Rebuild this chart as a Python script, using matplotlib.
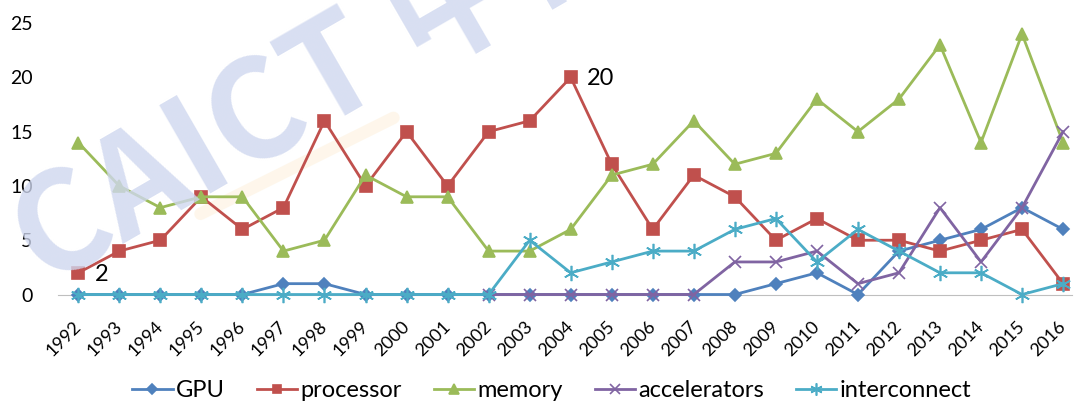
import numpy as np
import matplotlib
matplotlib.use("Agg")
import matplotlib.pyplot as plt
from matplotlib.lines import Line2D

plt.rcParams['font.family'] = ['Lato', 'Noto Sans CJK SC', 'DejaVu Sans']

years = [str(y) for y in range(1992, 2017)]

gpu = [0, 0, 0, 0, 0, 1, 1, 0, 0, 0, 0, 0, 0, 0, 0, 0, 0, 1, 2, 0, 4, 5, 6, 8, 6]
processor = [2, 4, 5, 9, 6, 8, 16, 10, 15, 10, 15, 16, 20, 12, 6, 11, 9, 5, 7, 5, 5, 4, 5, 6, 1]
memory = [14, 10, 8, 9, 9, 4, 5, 11, 9, 9, 4, 4, 6, 11, 12, 16, 12, 13, 18, 15, 18, 23, 14, 24, 14]
accelerators = [np.nan] * 10 + [0, 0, 0, 0, 0, 0, 3, 3, 4, 1, 2, 8, 3, 8, 15]
interconnect = [0, 0, 0, 0, 0, 0, 0, 0, 0, 0, 0, 5, 2, 3, 4, 4, 6, 7, 3, 6, 4, 2, 2, 0, 1]

# labelled points: (series, index)
labelled = [(processor, 0), (processor, 12)]

x = np.arange(len(years))

fig = plt.figure(figsize=(10.78, 4.05), dpi=100)
ax = fig.add_axes([0.0536, 0.2728, 0.9516, 0.6702])

# faint watermark behind the chart
fig.text(0.042, 0.285, "CAICT 中国信通院", fontsize=99, fontweight='bold',
         color='#cfd7ef', alpha=0.8, rotation=30, rotation_mode='anchor',
         ha='left', va='baseline', zorder=0,
         family=['Noto Sans CJK SC', 'DejaVu Sans'])
fig.add_artist(Line2D([0.186, 0.365], [0.472, 0.709], transform=fig.transFigure,
                      color='#fde8c6', lw=9, alpha=0.35, solid_capstyle='round',
                      zorder=0))

series = [
    ("GPU", gpu, "#4F81BD", "D", 6),
    ("processor", processor, "#C0504D", "s", 8),
    ("memory", memory, "#9BBB59", "^", 9),
    ("accelerators", accelerators, "#8064A2", "x", 9),
    ("interconnect", interconnect, "#4BACC6", (6, 2, 0), 11),
]
for name, vals, col, mk, ms in series:
    ax.plot(x, vals, color=col, lw=2.0, marker=mk, markersize=ms,
            markeredgewidth=1.2, label=name, clip_on=False, zorder=3)

for vals, i in labelled:
    ax.annotate(str(vals[i]), (x[i], vals[i]), xytext=(12, -1),
                textcoords='offset points', ha='left', va='center', fontsize=17)

ax.set_xlim(-0.5, 24.5)
ax.set_ylim(0, 25)
ax.set_yticks(range(0, 26, 5))
ax.set_xticks(x)
ax.set_xticklabels(years, rotation=45, ha='right', va='center', rotation_mode='anchor')
ax.tick_params(axis='y', length=0, pad=18, labelsize=14)
ax.tick_params(axis='x', length=0, pad=21, labelsize=13)
for s in ['top', 'right', 'left']:
    ax.spines[s].set_visible(False)
ax.spines['bottom'].set_color('#bfbfbf')
ax.spines['bottom'].set_bounds(-0.5, 24.22)
ax.patch.set_alpha(0)

fig.legend(loc='center', bbox_to_anchor=(0.512, 0.035), ncol=5, frameon=False,
           fontsize=17, handlelength=1.7, columnspacing=1.35, handletextpad=0.15,
           markerscale=0.8)

plt.savefig('out.png')
